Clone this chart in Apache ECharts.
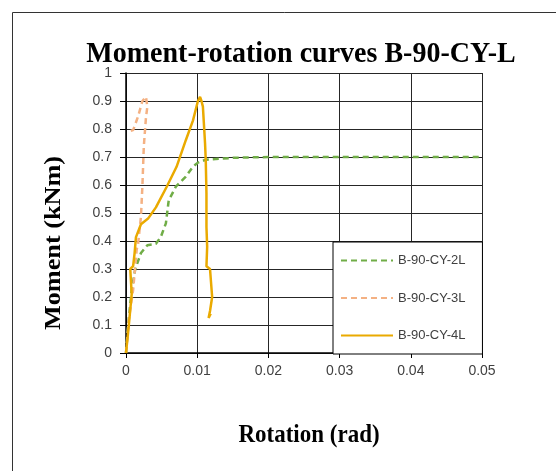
<!DOCTYPE html>
<html>
<head>
<meta charset="utf-8">
<script src="https://cdn.jsdelivr.net/npm/echarts@6/dist/echarts.min.js"></script>
<style>
  html, body { margin: 0; padding: 0; background: #fff; }
  #root { width: 556px; height: 471px; }
</style>
</head>
<body>
<div id="root"></div>
<script>
// values (rotation in rad, moment in kNm)
const seriesNames = ["B-90-CY-2L", "B-90-CY-3L", "B-90-CY-4L"];

const rot2L = [0, 0.0003, 0.0008, 0.0013, 0.0021, 0.003, 0.0042, 0.0049, 0.0056, 0.006, 0.007, 0.0084, 0.0094, 0.0101, 0.0112, 0.015, 0.02, 0.03, 0.04, 0.05];
const mom2L = [0, 0.1, 0.225, 0.30, 0.357, 0.385, 0.39, 0.415, 0.463, 0.545, 0.594, 0.63, 0.665, 0.68, 0.69, 0.697, 0.70, 0.70, 0.70, 0.70];

const rot3L = [0, 0.0004, 0.001, 0.0013, 0.0015, 0.0017, 0.0021, 0.0023, 0.0025, 0.0028, 0.0030, 0.0028, 0.0023, 0.0017, 0.0010, 0.0002];
const mom3L = [0, 0.12, 0.225, 0.31, 0.37, 0.39, 0.487, 0.594, 0.737, 0.84, 0.88, 0.915, 0.90, 0.845, 0.796, 0.79];

const rot4L = [0, 0.0004, 0.0008, 0.0006, 0.001, 0.0012, 0.0014, 0.0021, 0.0031, 0.0042, 0.0057, 0.0071, 0.0084, 0.0094, 0.0101, 0.0104, 0.0106, 0.0108, 0.0111, 0.0112, 0.0113, 0.0113, 0.0114, 0.0113, 0.0118, 0.0121, 0.0118, 0.0116, 0.0119];
const mom4L = [0, 0.1, 0.21, 0.30, 0.31, 0.355, 0.414, 0.46, 0.48, 0.52, 0.593, 0.665, 0.76, 0.83, 0.90, 0.915, 0.90, 0.88, 0.75, 0.69, 0.57, 0.45, 0.38, 0.31, 0.30, 0.20, 0.15, 0.125, 0.14];

const xTicks = [0, 0.01, 0.02, 0.03, 0.04, 0.05];
const yTicks = [0, 0.1, 0.2, 0.3, 0.4, 0.5, 0.6, 0.7, 0.8, 0.9, 1];

const pairs = (xs, ys) => xs.map((x, i) => [x, ys[i]]);

const chart = echarts.init(document.getElementById("root"));
const tickFont = { fontFamily: "Liberation Sans", fontSize: 14, color: "#404040" };

const option = {
  animation: false,
  grid: { left: 126, right: 74, top: 73, bottom: 118 },
  graphic: [
    { type: "rect", shape: { x: 12.5, y: 12.5, width: 700, height: 700 },
      style: { fill: "none", stroke: "#333", lineWidth: 1 } },
    { type: "text", x: 301, y: 54, scaleY: 1.06,
      style: { text: "Moment-rotation curves B-90-CY-L", fontFamily: "Liberation Serif", fontWeight: "bold",
               fontSize: 28, fill: "#000", textAlign: "center", textVerticalAlign: "middle" } },
    { type: "text", x: 309, y: 435, scaleY: 1.1,
      style: { text: "Rotation (rad)", fontFamily: "Liberation Serif", fontWeight: "bold",
               fontSize: 23, fill: "#000", textAlign: "center", textVerticalAlign: "middle" } },
    { type: "text", x: 54, y: 243, rotation: Math.PI / 2, scaleX: 1.14,
      style: { text: "Moment (kNm)", fontFamily: "Liberation Serif", fontWeight: "bold",
               fontSize: 23, fill: "#000", textAlign: "center", textVerticalAlign: "middle" } }
  ],
  legend: {
    orient: "vertical",
    left: 333, top: 242,
    padding: [12, 17, 12, 7],
    itemWidth: 52, itemHeight: 14, itemGap: 24.5,
    backgroundColor: "#fff",
    borderColor: "#000", borderWidth: 1,
    itemStyle: { opacity: 0 },
    textStyle: { fontFamily: "Liberation Sans", fontSize: 13, color: "#404040" },
    data: seriesNames
  },
  xAxis: {
    type: "value", min: 0, max: 0.05, interval: 0.01,
    axisLine: { onZero: false, lineStyle: { color: "#000", width: 1.5 } },
    axisTick: { show: true, length: 5, lineStyle: { color: "#000" } },
    axisLabel: Object.assign({ margin: 11, formatter: v => String(+v.toFixed(2)) }, tickFont),
    splitLine: { show: true, lineStyle: { color: "#262626", width: 1 } }
  },
  yAxis: {
    type: "value", min: 0, max: 1, interval: 0.1,
    axisLine: { show: true, onZero: false, lineStyle: { color: "#000", width: 1.5 } },
    axisTick: { show: true, length: 6, lineStyle: { color: "#000" } },
    axisLabel: Object.assign({ margin: 14, formatter: v => String(+v.toFixed(1)) }, tickFont),
    splitLine: { show: true, lineStyle: { color: "#262626", width: 1 } }
  },
  series: [
    { name: seriesNames[0], type: "line", symbol: "none", data: pairs(rot2L, mom2L),
      lineStyle: { color: "#70AD47", width: 2.5, type: [6, 4] }, itemStyle: { color: "#70AD47" } },
    { name: seriesNames[1], type: "line", symbol: "none", data: pairs(rot3L, mom3L),
      lineStyle: { color: "#F4B183", width: 2.5, type: [6, 4] }, itemStyle: { color: "#F4B183" } },
    { name: seriesNames[2], type: "line", symbol: "none", data: pairs(rot4L, mom4L),
      lineStyle: { color: "#EAAA00", width: 2.5 }, itemStyle: { color: "#EAAA00" } }
  ]
};
chart.setOption(option);
</script>
</body>
</html>
